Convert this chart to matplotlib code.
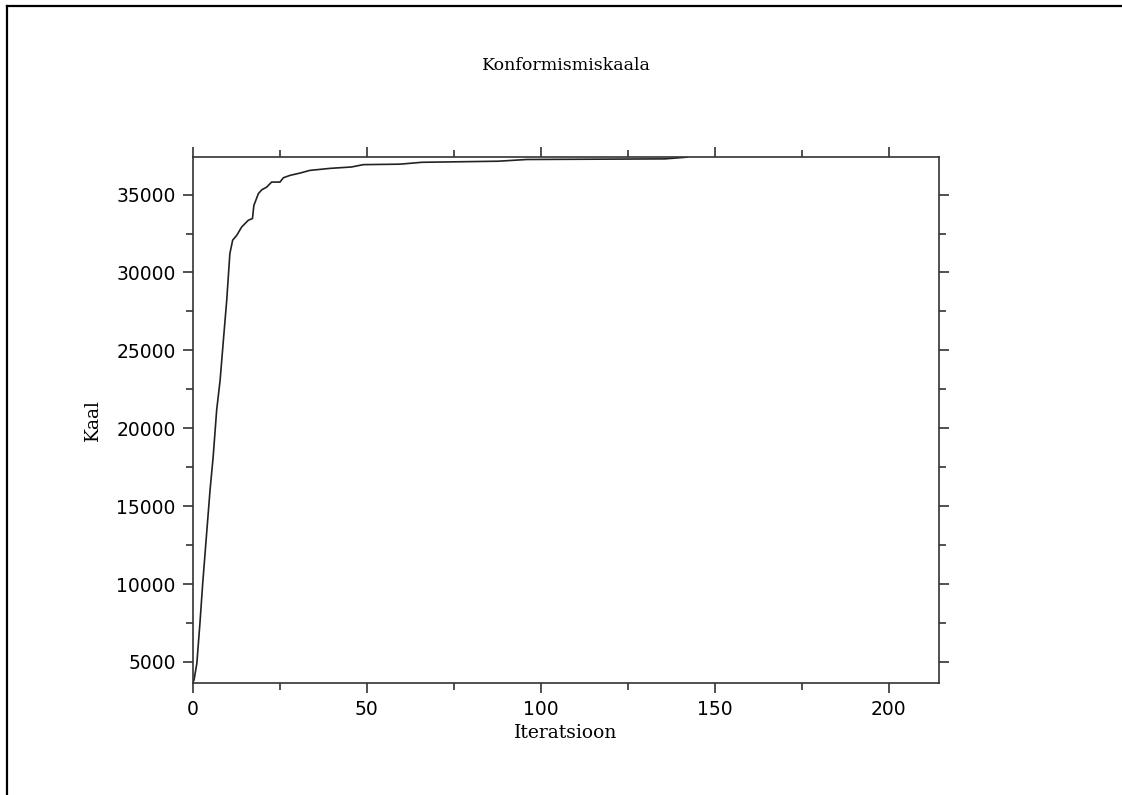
import matplotlib
matplotlib.use("Agg")
import matplotlib.pyplot as plt
from matplotlib.lines import Line2D
from matplotlib.ticker import MultipleLocator

# Data
iterations = [0.0, 0.3, 1.1, 2.0, 2.8, 3.7, 4.9, 5.8, 6.8, 7.8, 8.7, 9.7, 10.6,
              11.4, 12.6, 14.0, 15.9, 17.1, 17.5, 18.8, 19.8, 21.2, 22.6, 25.0,
              26.0, 27.9, 30.8, 33.6, 39.4, 45.6, 49.0, 59.5, 65.8, 87.8, 96.0,
              135.7, 142.0]
kaal = [3700, 3850, 4900, 7500, 10070, 12630, 16030, 18170, 21160, 23090, 25550,
        28220, 31210, 32070, 32390, 32920, 33350, 33460, 34300, 35060, 35310,
        35480, 35800, 35800, 36080, 36230, 36380, 36550, 36680, 36770, 36920,
        36950, 37070, 37140, 37250, 37290, 37400]

title = "Konformismiskaala"
xlabel = "Iteratsioon"
ylabel = "Kaal"

fig = plt.figure(figsize=(11.22, 7.95), dpi=100)
ax = fig.add_axes([193/1122, 1-683/795, (939-193)/1122, (683-157)/795])

ax.plot(iterations, kaal, color="#222222", linewidth=1.2)

ax.set_xlim(0, 214.5)
ax.xaxis.set_major_locator(MultipleLocator(50))
ax.xaxis.set_minor_locator(MultipleLocator(25))
ax.yaxis.set_minor_locator(MultipleLocator(2500))
ax.set_yticks([5000, 10000, 15000, 20000, 25000, 30000, 35000])
ax.set_ylim(3650, 37410)

ax.tick_params(which="both", direction="out", top=True, right=True,
               color="#333333", width=1.2)
ax.tick_params(which="major", length=7.5)
ax.tick_params(which="minor", length=5)
ax.tick_params(labelsize=13.5, pad=5)
for lab in ax.get_xticklabels() + ax.get_yticklabels():
    lab.set_family("DejaVu Sans")
for s in ax.spines.values():
    s.set_linewidth(1.2)
    s.set_color("#333333")

ax.set_xlabel(xlabel, family="DejaVu Serif", fontsize=13.5, labelpad=3)
ax.set_ylabel(ylabel, family="DejaVu Serif", fontsize=13.5, labelpad=10)

fig.text(566/1122, 1-65/795, title, ha="center", va="center",
         family="DejaVu Serif", fontsize=12.5)

# Frame around the figure (left and top edges visible)
fig.add_artist(Line2D([7/1122, 7/1122], [0, 1-6/795], transform=fig.transFigure,
                      color="black", linewidth=1.6))
fig.add_artist(Line2D([7/1122, 1], [1-6/795, 1-6/795], transform=fig.transFigure,
                      color="black", linewidth=1.6))

fig.savefig("out.png", dpi=100)
